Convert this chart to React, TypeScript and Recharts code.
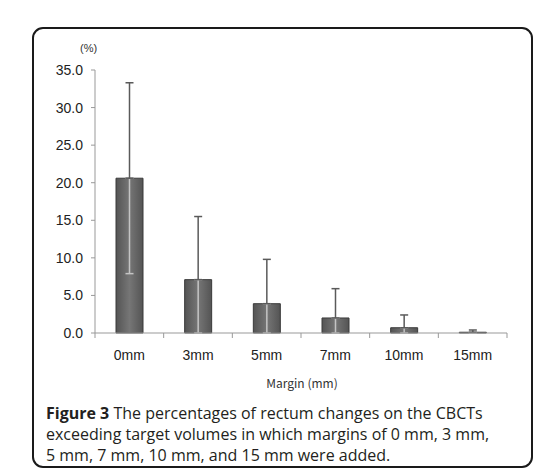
import { BarChart, Bar, XAxis, YAxis, ErrorBar } from 'recharts';

const margins = ['0mm', '3mm', '5mm', '7mm', '10mm', '15mm'];
const meanPct = [20.6, 7.1, 3.9, 2.0, 0.7, 0.1];
const sdPct = [12.7, 8.4, 5.9, 3.9, 1.7, 0.3];
const yTicks = [0, 5, 10, 15, 20, 25, 30, 35];

const data = margins.map((m, i) => ({
  name: m,
  value: meanPct[i],
  up: [0, sdPct[i]],
  // lower whisker stops at the axis
  down: [Math.min(sdPct[i], meanPct[i]), 0],
}));

const MarginTick = (props: any) => {
  const { x, y, payload, index } = props;
  const half = payload.offset ?? 34;
  return (
    <g>
      <line x1={x - half} x2={x - half} y1={y} y2={y + 5} stroke="#999" />
      {index === margins.length - 1 && (
        <line x1={x + half} x2={x + half} y1={y} y2={y + 5} stroke="#999" />
      )}
      <text x={x} y={y + 27} textAnchor="middle" fontSize={14} fill="#222"
        fontFamily="Liberation Sans, Arial, sans-serif">
        {payload.value}
      </text>
    </g>
  );
};

export default function App() {
  return (
    <div style={{ position: 'absolute', left: 0, top: 0, width: 552, height: 472, background: '#fff' }}>
      <div style={{
        position: 'absolute', left: 32, top: 27, width: 497, height: 437,
        border: '2px solid #1a1a1a', borderRadius: 11,
      }} />
      <div style={{
        position: 'absolute', left: 80, top: 42, fontSize: 11, color: '#333',
        fontFamily: 'Liberation Sans, Arial, sans-serif',
      }}>(%)</div>
      <BarChart
        width={552}
        height={472}
        data={data}
        margin={{ top: 70, right: 45, bottom: 109, left: 45 }}
        style={{ position: 'absolute', left: 0, top: 0 }}
      >
        <defs>
          <linearGradient id="barFill" x1="0" y1="0" x2="1" y2="0">
            <stop offset="0%" stopColor="#545454" />
            <stop offset="50%" stopColor="#767676" />
            <stop offset="100%" stopColor="#545454" />
          </linearGradient>
        </defs>
        <XAxis
          dataKey="name"
          height={30}
          tickLine={false}
          tickSize={0}
          tickMargin={0}
          axisLine={{ stroke: '#999' }}
          tick={<MarginTick />}
          interval={0}
        />
        <YAxis
          width={50}
          domain={[0, 35]}
          ticks={yTicks}
          tickFormatter={(v: number) => v.toFixed(1)}
          tickSize={4}
          tickMargin={8}
          axisLine={{ stroke: '#999' }}
          tickLine={{ stroke: '#999' }}
          tick={{ fontSize: 14, fill: '#222', fontFamily: 'Liberation Sans, Arial, sans-serif' }}
        />
        <Bar dataKey="value" barSize={27} fill="url(#barFill)" stroke="#3a3a3a" strokeWidth={1} isAnimationActive={false}>
          <ErrorBar dataKey="down" width={4} stroke="#c4c4c4" strokeWidth={1.5} isAnimationActive={false} />
          <ErrorBar dataKey="up" width={4} stroke="#5a5a5a" strokeWidth={1.5} isAnimationActive={false} />
        </Bar>
      </BarChart>
      <div style={{
        position: 'absolute', left: 252, top: 374, width: 100, textAlign: 'center',
        fontSize: 12, color: '#333', whiteSpace: 'nowrap',
        fontFamily: '"Noto Sans CJK JP", sans-serif',
      }}>Margin (mm)</div>
      <div style={{
        position: 'absolute', left: 46, top: 403, width: 480, fontSize: 16, lineHeight: '21px',
        color: '#231f20', fontFamily: '"Open Sans", sans-serif', whiteSpace: 'nowrap',
      }}>
        <b>Figure 3</b> The percentages of rectum changes on the CBCTs<br />
        exceeding target volumes in which margins of 0 mm, 3 mm,<br />
        5 mm, 7 mm, 10 mm, and 15 mm were added.
      </div>
    </div>
  );
}
